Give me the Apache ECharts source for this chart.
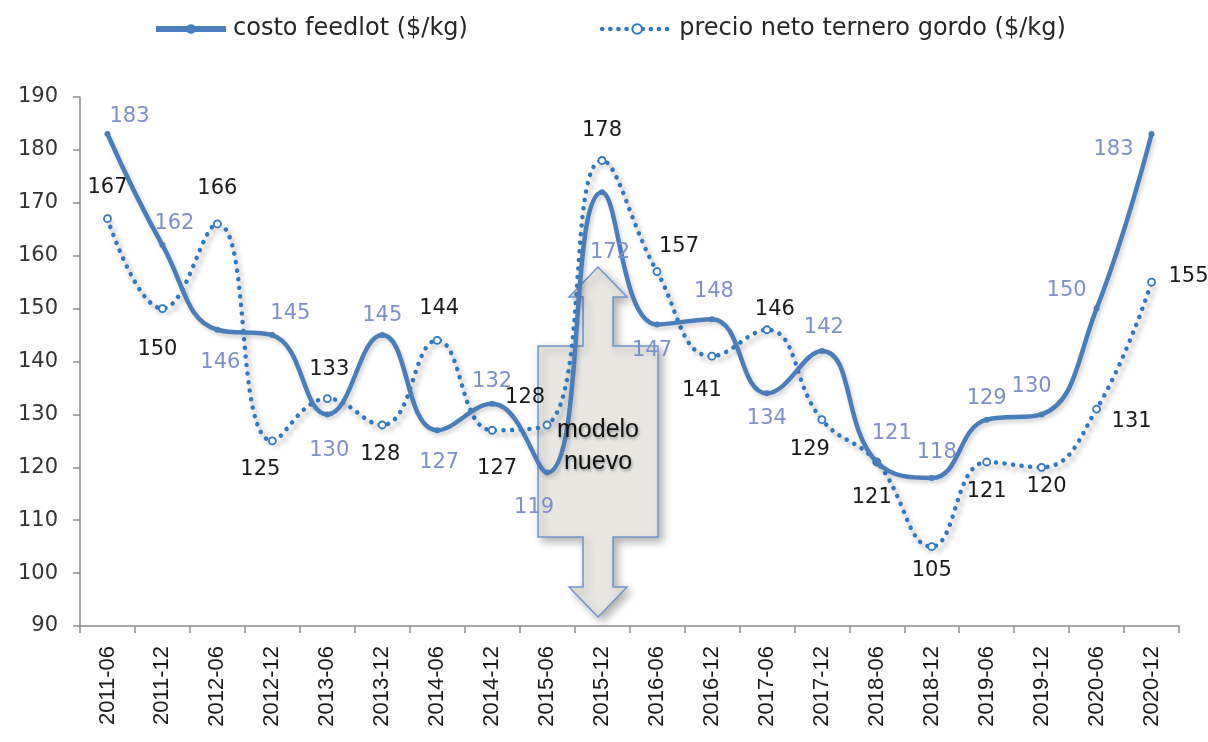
<!DOCTYPE html>
<html>
<head>
<meta charset="utf-8">
<script src="https://cdn.jsdelivr.net/npm/echarts@6/dist/echarts.min.js"></script>
<style>
  html, body { margin: 0; padding: 0; background: #ffffff; }
  #chart { width: 1208px; height: 742px; }
</style>
</head>
<body>
<div id="chart"></div>
<script>
// Semesters on the category axis
const periods = ['2011-06','2011-12','2012-06','2012-12','2013-06','2013-12','2014-06','2014-12','2015-06','2015-12',
                 '2016-06','2016-12','2017-06','2017-12','2018-06','2018-12','2019-06','2019-12','2020-06','2020-12'];

// Feedlot cost ($/kg)
const costoFeedlot = [183,162,146,145,130,145,127,132,119,172,147,148,134,142,121,118,129,130,150,183];

// Net price of the fattened calf ($/kg)
const precioTernero = [167,150,166,125,133,128,144,127,128,178,157,141,146,129,121,105,121,120,131,155];

// Value axis ticks
const yTicks = { min: 90, max: 190, step: 10 };

// Label nudges (pixels from each point) so the two label sets do not collide
const costoLabelShift = [[22,-17],[12,-22],[3,33],[18,-22],[2,36],[0,-20],[2,32],[0,-22],[-13,35],[8,60],
                         [-5,26],[2,-28],[0,25],[2,-23],[15,-28],[5,-25],[0,-21],[-10,-28],[-30,-18],[-38,16]];
const precioLabelShift = [[0,-31],[-5,41],[0,-35],[-12,29],[2,-29],[-2,30],[2,-32],[5,38],[-22,-27],[0,-30],
                          [22,-25],[-10,34],[8,-20],[-12,30],[-5,36],[0,24],[0,30],[5,19],[35,12],[37,-6]];

const FONT = 'DejaVu Sans';
const COSTO_COLOR = '#4a7ebb';
const PRECIO_COLOR = '#2f79c2';
const chart = echarts.init(document.getElementById('chart'), null, { renderer: 'canvas' });

function withLabels(values, shifts) {
  return values.map((v, i) => ({
    value: v,
    label: { offset: shifts[i] }
  }));
}

// "modelo nuevo" double arrow drawn between the x-axis and the 2015-12 peak
function arrowPoints(cx) {
  const headHalf = 29, stemHalf = 15, boxHalf = 60;
  const tipTop = 267, headTop = 297, boxTop = 346, boxBot = 537, headBot = 587, tipBot = 617;
  return [
    [cx, tipTop], [cx + headHalf, headTop], [cx + stemHalf, headTop], [cx + stemHalf, boxTop],
    [cx + boxHalf, boxTop], [cx + boxHalf, boxBot], [cx + stemHalf, boxBot], [cx + stemHalf, headBot],
    [cx + headHalf, headBot], [cx, tipBot], [cx - headHalf, headBot], [cx - stemHalf, headBot],
    [cx - stemHalf, boxBot], [cx - boxHalf, boxBot], [cx - boxHalf, boxTop], [cx - stemHalf, boxTop],
    [cx - stemHalf, headTop], [cx - headHalf, headTop]
  ];
}

const option = {
  backgroundColor: '#ffffff',
  animation: false,
  legend: {
    top: 12,
    left: 148,
    itemGap: 132,
    itemWidth: 70,
    itemHeight: 12,
    textStyle: { fontFamily: FONT, fontSize: 24, color: '#262626', padding: [0, 0, 0, 2] },
    data: [
      { name: 'costo feedlot ($/kg)', lineStyle: { width: 6, color: COSTO_COLOR } },
      { name: 'precio neto ternero gordo ($/kg)', lineStyle: { width: 4.5, color: PRECIO_COLOR, type: [0.1, 8], cap: 'round' } }
    ]
  },
  grid: { left: 80, right: 29, top: 97, bottom: 116 },
  xAxis: {
    type: 'category',
    data: periods,
    boundaryGap: true,
    axisLine: { lineStyle: { color: '#8c8c8c', width: 1.5 } },
    axisTick: { show: true, interval: 0, length: 7, lineStyle: { color: '#8c8c8c', width: 1.5 } },
    axisLabel: {
      interval: 0, rotate: 90, margin: 20,
      fontFamily: 'Liberation Sans', fontSize: 22, color: '#1a1a1a'
    },
    splitLine: { show: false }
  },
  yAxis: {
    type: 'value',
    min: yTicks.min, max: yTicks.max, interval: yTicks.step,
    axisLine: { show: true, lineStyle: { color: '#8c8c8c', width: 1.5 } },
    axisTick: { show: true, length: 7, lineStyle: { color: '#8c8c8c', width: 1.5 } },
    axisLabel: { fontFamily: FONT, fontSize: 21, color: '#333333', margin: 22 },
    splitLine: { show: false }
  },
  series: [
    {
      name: 'costo feedlot ($/kg)',
      type: 'line',
      z: 4,
      smooth: 0.45,
      data: withLabels(costoFeedlot, costoLabelShift),
      symbol: 'circle',
      symbolSize: 6,
      itemStyle: { color: COSTO_COLOR },
      lineStyle: {
        color: COSTO_COLOR, width: 4.5,
        shadowColor: 'rgba(0,0,0,0.18)', shadowBlur: 4, shadowOffsetX: 2, shadowOffsetY: 3
      },
      label: {
        show: true, position: 'inside',
        fontFamily: FONT, fontSize: 21, color: '#7d8fcc'
      }
    },
    {
      name: 'precio neto ternero gordo ($/kg)',
      type: 'line',
      z: 3,
      smooth: 0.45,
      data: withLabels(precioTernero, precioLabelShift),
      symbol: 'circle',
      symbolSize: 7,
      itemStyle: { color: '#ffffff', borderColor: PRECIO_COLOR, borderWidth: 1.8 },
      lineStyle: {
        color: PRECIO_COLOR, width: 4.5, type: [0.1, 8.5], cap: 'round',
        shadowColor: 'rgba(0,0,0,0.35)', shadowBlur: 5, shadowOffsetX: 3, shadowOffsetY: 4
      },
      label: {
        show: true, position: 'inside',
        fontFamily: FONT, fontSize: 21, color: '#1a1a1a'
      }
    }
  ]
};

chart.setOption(option);

// Place the annotation arrow just left of the 2015-12 category centre
const cx = chart.convertToPixel({ xAxisIndex: 0 }, '2015-12') - 4;
chart.setOption({
  graphic: {
    elements: [
      {
        type: 'polygon',
        z: -10,
        shape: { points: arrowPoints(cx) },
        style: {
          fill: '#e7e6e1', stroke: '#6f95cc', lineWidth: 1.5,
          shadowColor: 'rgba(0,0,0,0.3)', shadowBlur: 8, shadowOffsetX: 4, shadowOffsetY: 4
        }
      },
      {
        type: 'text',
        z: 5,
        x: cx,
        y: 446,
        style: {
          text: 'modelo\nnuevo',
          fontFamily: 'Liberation Sans', fontSize: 25, fill: '#111111',
          align: 'center', verticalAlign: 'middle', lineHeight: 32,
          textShadowColor: 'rgba(0,0,0,0.35)', textShadowBlur: 3, textShadowOffsetX: 1, textShadowOffsetY: 2
        }
      }
    ]
  }
});
</script>
</body>
</html>
